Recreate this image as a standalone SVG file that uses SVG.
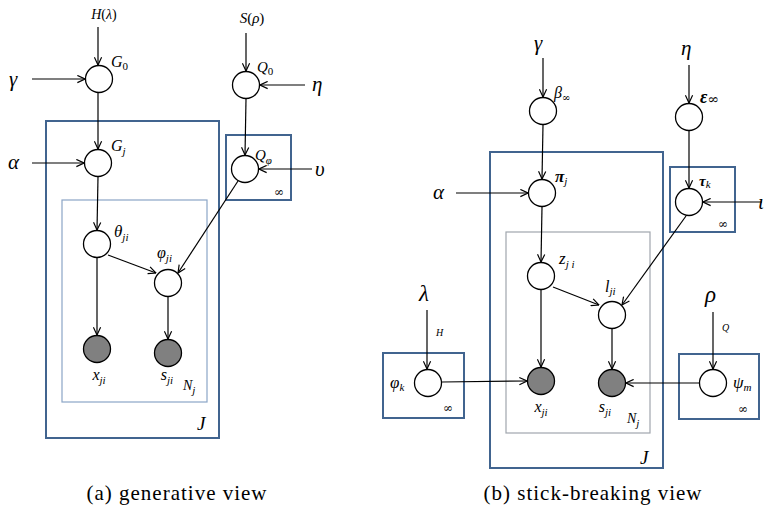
<svg xmlns="http://www.w3.org/2000/svg" width="768" height="509" viewBox="0 0 768 509">
  <defs>
    <marker id="arr" viewBox="0 0 10 10" refX="9.5" refY="5" markerWidth="9" markerHeight="9" markerUnits="userSpaceOnUse" orient="auto">
      <path d="M1,1 L9.5,5 L1,9" fill="none" stroke="#000000" stroke-width="1.3"/>
    </marker>
  </defs>
  <rect x="0" y="0" width="768" height="509" fill="#ffffff"/>

  <!-- (a) generative view : plates -->
  <g id="a-plates" fill="none">
    <rect x="46" y="121" width="173" height="317" stroke="#41648f" stroke-width="2"/>
    <rect x="62" y="200" width="145" height="202" stroke="#8ba5c6" stroke-width="1.2"/>
    <rect x="226" y="135" width="65" height="65" stroke="#41648f" stroke-width="2"/>
    <text x="197" y="430" font-family="Liberation Serif" font-size="19" font-style="italic" fill="#000">J</text>
    <text x="183" y="390" font-family="Liberation Serif" font-size="14" font-style="italic" fill="#000">N<tspan font-size="11" dy="4">j</tspan></text>
    <text x="274" y="196" font-family="DejaVu Serif" font-size="12" fill="#000">∞</text>
  </g>

  <!-- (a) connectors -->
  <g id="a-edges" stroke="#000000" stroke-width="1.2" fill="none" marker-end="url(#arr)">
    <line x1="98" y1="27" x2="98" y2="65"/>
    <line x1="32" y1="79" x2="85" y2="79"/>
    <line x1="98" y1="93" x2="98" y2="149"/>
    <line x1="32" y1="163" x2="84" y2="163"/>
    <line x1="98" y1="177" x2="97" y2="230"/>
    <line x1="108" y1="255" x2="156" y2="273"/>
    <line x1="97" y1="258" x2="97" y2="335"/>
    <line x1="168" y1="297" x2="168" y2="339"/>
    <line x1="246" y1="33" x2="246" y2="71"/>
    <line x1="305" y1="85" x2="260" y2="85"/>
    <line x1="246" y1="99" x2="245" y2="155"/>
    <line x1="312" y1="169" x2="259" y2="169"/>
    <line x1="238" y1="181" x2="178" y2="273"/>
  </g>

  <!-- (a) inputs -->
  <g id="a-inputs" fill="#000">
    <text x="104" y="19" font-family="Liberation Serif" font-size="14" text-anchor="middle"><tspan font-style="italic">H</tspan>(<tspan font-style="italic">λ</tspan>)</text>
    <text x="252" y="23" font-family="Liberation Serif" font-size="15" text-anchor="middle"><tspan font-style="italic">S</tspan>(<tspan font-style="italic">ρ</tspan>)</text>
    <text x="9" y="86" font-family="Liberation Serif" font-size="21" font-style="italic">γ</text>
    <text x="8" y="169" font-family="Liberation Serif" font-size="21" font-style="italic">α</text>
    <text x="312" y="91" font-family="Liberation Serif" font-size="21" font-style="italic">η</text>
    <text x="315" y="176" font-family="Liberation Serif" font-size="21" font-style="italic">υ</text>
  </g>

  <g id="a-G0">
    <circle cx="99" cy="79" r="13.5" fill="#fff" stroke="#000" stroke-width="1.3"/>
    <text x="111" y="67" font-family="Liberation Serif" font-size="16" font-style="italic">G<tspan font-size="11" font-style="normal" dy="3">0</tspan></text>
  </g>
  <g id="a-Gj">
    <circle cx="98" cy="163" r="13.5" fill="#fff" stroke="#000" stroke-width="1.3"/>
    <text x="111" y="151" font-family="Liberation Serif" font-size="16" font-style="italic">G<tspan font-size="11" dy="4">j</tspan></text>
  </g>
  <g id="a-theta">
    <circle cx="97" cy="244" r="13.5" fill="#fff" stroke="#000" stroke-width="1.3"/>
    <text x="114" y="237" font-family="Liberation Serif" font-size="17" font-style="italic">θ<tspan font-size="11" dy="4">ji</tspan></text>
  </g>
  <g id="a-varphi">
    <circle cx="168" cy="283" r="13.5" fill="#fff" stroke="#000" stroke-width="1.3"/>
    <text x="157" y="258" font-family="Liberation Serif" font-size="16" font-style="italic">φ<tspan font-size="11" dy="4">ji</tspan></text>
  </g>
  <g id="a-x">
    <circle cx="97" cy="349" r="13.5" fill="#808080" stroke="#000" stroke-width="1.3"/>
    <text x="99" y="380" font-family="Liberation Serif" font-size="16" font-style="italic" text-anchor="middle">x<tspan font-size="11" dy="4">ji</tspan></text>
  </g>
  <g id="a-s">
    <circle cx="168" cy="353" r="13.5" fill="#808080" stroke="#000" stroke-width="1.3"/>
    <text x="167" y="380" font-family="Liberation Serif" font-size="16" font-style="italic" text-anchor="middle">s<tspan font-size="11" dy="4">ji</tspan></text>
  </g>
  <g id="a-Q0">
    <circle cx="246" cy="85" r="13.5" fill="#fff" stroke="#000" stroke-width="1.3"/>
    <text x="257" y="72" font-family="Liberation Serif" font-size="15" font-style="italic">Q<tspan font-size="11" font-style="normal" dy="3">0</tspan></text>
  </g>
  <g id="a-Qphi">
    <circle cx="245" cy="169" r="13.5" fill="#fff" stroke="#000" stroke-width="1.3"/>
    <text x="255" y="160" font-family="Liberation Serif" font-size="15" font-style="italic">Q<tspan font-size="11" dy="4">φ</tspan></text>
  </g>

  <!-- (b) stick-breaking view : plates -->
  <g id="b-plates" fill="none">
    <rect x="490" y="152" width="173" height="316" stroke="#41648f" stroke-width="2"/>
    <rect x="506" y="232" width="144" height="201" stroke="#a0a6ad" stroke-width="1.2"/>
    <rect x="670" y="167" width="65" height="65" stroke="#41648f" stroke-width="2"/>
    <rect x="383" y="353" width="81" height="65" stroke="#41648f" stroke-width="2"/>
    <rect x="679" y="354" width="80" height="65" stroke="#41648f" stroke-width="2"/>
    <text x="640" y="464" font-family="Liberation Serif" font-size="19" font-style="italic" fill="#000">J</text>
    <text x="627" y="423" font-family="Liberation Serif" font-size="14" font-style="italic" fill="#000">N<tspan font-size="11" dy="4">j</tspan></text>
    <text x="718" y="228" font-family="DejaVu Serif" font-size="12" fill="#000">∞</text>
    <text x="443" y="412" font-family="DejaVu Serif" font-size="12" fill="#000">∞</text>
    <text x="738" y="413" font-family="DejaVu Serif" font-size="12" fill="#000">∞</text>
  </g>

  <!-- (b) connectors -->
  <g id="b-edges" stroke="#000000" stroke-width="1.2" fill="none" marker-end="url(#arr)">
    <line x1="543" y1="58" x2="543" y2="97"/>
    <line x1="689" y1="65" x2="689" y2="103"/>
    <line x1="543" y1="125" x2="542" y2="179"/>
    <line x1="456" y1="193" x2="528" y2="193"/>
    <line x1="689" y1="131" x2="689" y2="188"/>
    <line x1="762" y1="202" x2="703" y2="202"/>
    <line x1="542" y1="207" x2="541" y2="262"/>
    <line x1="553" y1="287" x2="599" y2="305"/>
    <line x1="686" y1="216" x2="622" y2="305"/>
    <line x1="541" y1="290" x2="541" y2="367"/>
    <line x1="612" y1="329" x2="612" y2="369"/>
    <line x1="427" y1="310" x2="427" y2="369"/>
    <line x1="442" y1="382" x2="527" y2="381"/>
    <line x1="713" y1="312" x2="713" y2="369"/>
    <line x1="699" y1="383" x2="626" y2="383"/>
  </g>

  <!-- (b) inputs -->
  <g id="b-inputs" fill="#000">
    <text x="534" y="50" font-family="Liberation Serif" font-size="21" font-style="italic">γ</text>
    <text x="681" y="55" font-family="Liberation Serif" font-size="21" font-style="italic">η</text>
    <text x="433" y="199" font-family="Liberation Serif" font-size="21" font-style="italic">α</text>
    <text x="758" y="209" font-family="Liberation Serif" font-size="21" font-style="italic">ι</text>
    <text x="419" y="301" font-family="Liberation Serif" font-size="23" font-style="italic">λ</text>
    <text x="705" y="302" font-family="Liberation Serif" font-size="23" font-style="italic">ρ</text>
    <text x="436" y="336" font-family="Liberation Serif" font-size="10" font-style="italic">H</text>
    <text x="722" y="331" font-family="Liberation Serif" font-size="10" font-style="italic">Q</text>
  </g>

  <g id="b-beta">
    <circle cx="543" cy="111" r="13.5" fill="#fff" stroke="#000" stroke-width="1.3"/>
    <text x="554" y="98" font-family="Liberation Serif" font-size="16" font-style="italic">β<tspan font-family="DejaVu Serif" font-size="10" font-style="normal" dy="3">∞</tspan></text>
  </g>
  <g id="b-eps">
    <circle cx="689" cy="117" r="13.5" fill="#fff" stroke="#000" stroke-width="1.3"/>
    <text x="700" y="103" font-family="Liberation Serif" font-size="18" font-style="italic" font-weight="bold">ε<tspan font-family="DejaVu Serif" font-style="normal" font-weight="normal" font-size="14" dy="1">∞</tspan></text>
  </g>
  <g id="b-pi">
    <circle cx="542" cy="193" r="13.5" fill="#fff" stroke="#000" stroke-width="1.3"/>
    <text x="555" y="182" font-family="Liberation Serif" font-size="17" font-style="italic" font-weight="bold">π<tspan font-size="11" font-weight="normal" dy="3">j</tspan></text>
  </g>
  <g id="b-tau">
    <circle cx="689" cy="202" r="13.5" fill="#fff" stroke="#000" stroke-width="1.3"/>
    <text x="699" y="186" font-family="Liberation Serif" font-size="15" font-style="italic" font-weight="bold">τ<tspan font-size="11" font-weight="normal" dy="2">k</tspan></text>
  </g>
  <g id="b-z">
    <circle cx="541" cy="276" r="13.5" fill="#fff" stroke="#000" stroke-width="1.3"/>
    <text x="559" y="264" font-family="Liberation Serif" font-size="17" font-style="italic">z<tspan font-size="11" dy="4">j i</tspan></text>
  </g>
  <g id="b-l">
    <circle cx="612" cy="315" r="13.5" fill="#fff" stroke="#000" stroke-width="1.3"/>
    <text x="605" y="292" font-family="Liberation Serif" font-size="16" font-style="italic">l<tspan font-size="11" dy="3">ji</tspan></text>
  </g>
  <g id="b-x">
    <circle cx="541" cy="381" r="13.5" fill="#808080" stroke="#000" stroke-width="1.3"/>
    <text x="541" y="412" font-family="Liberation Serif" font-size="16" font-style="italic" text-anchor="middle">x<tspan font-size="11" dy="4">ji</tspan></text>
  </g>
  <g id="b-s">
    <circle cx="612" cy="383" r="13.5" fill="#808080" stroke="#000" stroke-width="1.3"/>
    <text x="605" y="412" font-family="Liberation Serif" font-size="16" font-style="italic" text-anchor="middle">s<tspan font-size="11" dy="4">ji</tspan></text>
  </g>
  <g id="b-phi">
    <circle cx="428" cy="383" r="13.5" fill="#fff" stroke="#000" stroke-width="1.3"/>
    <text x="390" y="388" font-family="Liberation Serif" font-size="17" font-style="italic">φ<tspan font-size="11" dy="3">k</tspan></text>
  </g>
  <g id="b-psi">
    <circle cx="713" cy="383" r="13.5" fill="#fff" stroke="#000" stroke-width="1.3"/>
    <text x="733" y="388" font-family="Liberation Serif" font-size="17" font-style="italic">ψ<tspan font-size="11" dy="3">m</tspan></text>
  </g>

  <!-- captions -->
  <g id="captions" fill="#000">
    <text x="177" y="500" font-family="Liberation Serif" font-size="21" text-anchor="middle" letter-spacing="1">(a) generative view</text>
    <text x="593" y="500" font-family="Liberation Serif" font-size="21" text-anchor="middle" letter-spacing="1">(b) stick-breaking view</text>
  </g>
</svg>
